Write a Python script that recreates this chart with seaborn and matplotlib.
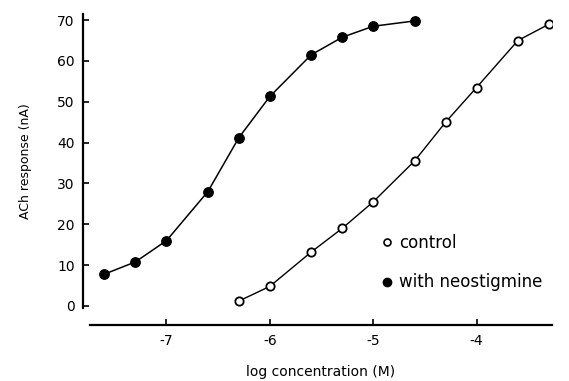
import matplotlib
matplotlib.use("Agg")
import matplotlib.pyplot as plt
import seaborn as sns
import pandas as pd
from matplotlib.lines import Line2D

# Data
control_x = [-6.3, -6.0, -5.6, -5.3, -5.0, -4.6, -4.3, -4.0, -3.6, -3.3]
control_y = [1.2, 4.8, 13.2, 19.0, 25.5, 35.5, 45.0, 53.5, 65.0, 69.0]
neo_x = [-7.6, -7.3, -7.0, -6.6, -6.3, -6.0, -5.6, -5.3, -5.0, -4.6]
neo_y = [7.8, 10.8, 16.0, 28.0, 41.2, 51.3, 61.5, 65.8, 68.5, 69.8]
x_ticks = [-7, -6, -5, -4]
x_tick_labels = ["-7", "-6", "-5", "-4"]
y_ticks = [0, 10, 20, 30, 40, 50, 60, 70]
legend_labels = ["control", "with neostigmine"]

sns.set_style("ticks")
plt.rcParams['font.family'] = ['DejaVu Sans']
plt.rcParams['text.color'] = 'black'
plt.rcParams['axes.labelcolor'] = 'black'

fig = plt.figure(figsize=(5.69, 3.81), dpi=100)
ax = fig.add_axes([90/569, 1 - 308/381, 462/569, 294/381])

df_c = pd.DataFrame({"x": control_x, "y": control_y})
df_n = pd.DataFrame({"x": neo_x, "y": neo_y})

sns.lineplot(data=df_n, x="x", y="y", ax=ax, color="black", lw=1.1,
             marker="o", markersize=7, mfc="black", mec="black")
sns.lineplot(data=df_c, x="x", y="y", ax=ax, color="black", lw=1.0,
             marker="o", markersize=6, mfc="white", mec="black", mew=1.3)

ax.set_xlim(-7.74, -3.27)
ax.set_ylim(-0.5, 71.5)
ax.set_xticks(x_ticks)
ax.set_xticklabels(x_tick_labels)
ax.set_yticks(y_ticks)

sns.despine(ax=ax)
ax.spines['left'].set_position(('outward', 5))
ax.spines['bottom'].set_position(('outward', 12))
ax.spines['left'].set_linewidth(1.6)
ax.spines['bottom'].set_linewidth(1.6)
ax.spines['left'].set_color('black')
ax.spines['bottom'].set_color('black')
ax.tick_params(axis='both', direction='in', length=4, width=1.2,
               labelsize=10, colors='black')
ax.tick_params(axis='y', pad=6)
ax.tick_params(axis='x', pad=7)

ax.set_xlabel("log concentration (M)", fontsize=10, labelpad=12)
ax.set_ylabel("ACh response (nA)", fontsize=9, labelpad=18)

handles = [
    Line2D([], [], ls='none', marker='o', markersize=5, mfc='white', mec='black', mew=1.2),
    Line2D([], [], ls='none', marker='o', markersize=6, mfc='black', mec='black'),
]
ax.legend(handles, legend_labels, loc='upper left',
          bbox_to_anchor=(284/462, (308 - 227) / 294),
          frameon=False, fontsize=12, handletextpad=0.3, handlelength=0.8,
          labelspacing=1.3, borderaxespad=0)

fig.savefig("out.png", dpi=100)
